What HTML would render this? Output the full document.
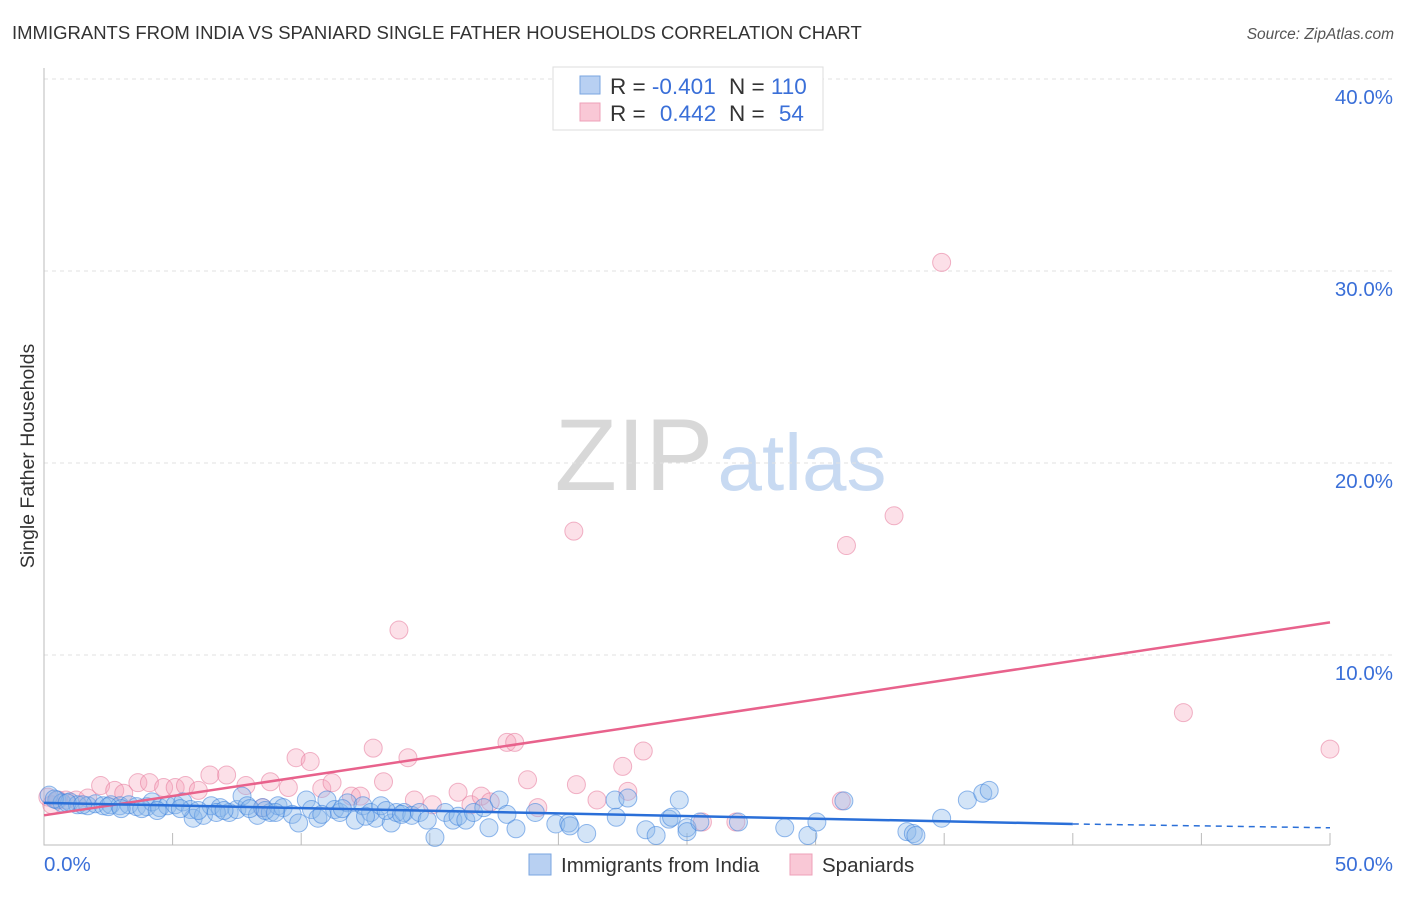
<!DOCTYPE html>
<html><head><meta charset="utf-8"><style>
body{margin:0;background:#fff;font-family:"Liberation Sans",sans-serif;}
svg text{font-family:"Liberation Sans",sans-serif;}
</style></head><body>
<svg id="chart" width="1406" height="892" xmlns="http://www.w3.org/2000/svg">
<text x="12" y="39" font-size="18.5" fill="#333">IMMIGRANTS FROM INDIA VS SPANIARD SINGLE FATHER HOUSEHOLDS CORRELATION CHART</text>
<text x="1394" y="39" font-size="15.5" fill="#555" font-style="italic" text-anchor="end">Source: ZipAtlas.com</text>
<text transform="translate(34,456) rotate(-90)" font-size="19.5" fill="#333" text-anchor="middle">Single Father Households</text>
<g>
<text x="634" y="490" font-size="102" fill="#d8d8d8" font-family="Liberation Serif,serif" text-anchor="middle">ZIP</text>
<text x="802" y="490" font-size="80" fill="#c8daf2" text-anchor="middle">atlas</text>
</g>
<g id="grid"></g>
<g id="axes"></g>
<g id="pts"></g>
<g id="lines"></g>
<g>
<rect x="553" y="67" width="270" height="63" fill="#fff" stroke="#ddd"/>
<rect x="580" y="76" width="20" height="18" fill="#b8d0f2" stroke="#7aa6e0"/>
<rect x="580" y="103" width="20" height="18" fill="#f9c8d6" stroke="#eea0b8"/>
<text x="610" y="94" font-size="22.5" fill="#333">R = <tspan fill="#3a6fd8">-0.401</tspan></text>
<text x="729" y="94" font-size="22.5" fill="#333">N = <tspan fill="#3a6fd8">110</tspan></text>
<text x="610" y="121" font-size="22.5" fill="#333">R = <tspan fill="#3a6fd8" dx="8">0.442</tspan></text>
<text x="729" y="121" font-size="22.5" fill="#333">N = <tspan fill="#3a6fd8" dx="8">54</tspan></text>
</g>
<g>
<rect x="529" y="854" width="22" height="21" fill="#b8d0f2" stroke="#7aa6e0"/>
<text x="561" y="872" font-size="20.5" fill="#333">Immigrants from India</text>
<rect x="790" y="854" width="22" height="21" fill="#f9c8d6" stroke="#eea0b8"/>
<text x="822" y="872" font-size="20.5" fill="#333">Spaniards</text>
</g>
</svg>
<script>
const yTicks=[10,20,30,40];
const yTickLabels=["10.0%","20.0%","30.0%","40.0%"];
const xTickLabels=["0.0%","50.0%"];
const indiaX=[0.2,0.5,0.7,1.0,1.3,1.7,2.0,2.3,2.6,2.95,3.3,3.6,4.0,4.2,4.5,4.8,5.1,5.4,5.7,5.8,6.2,6.5,6.85,7.2,7.5,7.7,7.9,8.3,8.5,8.8,9.1,9.3,9.65,9.9,10.2,10.4,10.65,11.0,11.3,11.5,11.8,12.1,12.4,12.7,12.9,13.1,13.5,13.7,14.0,14.3,14.6,14.9,15.2,15.6,15.9,16.1,16.4,16.7,17.1,17.3,17.7,18.0,18.35,19.1,19.9,20.4,20.45,21.1,22.2,22.25,22.7,23.4,23.8,24.3,24.4,24.7,25.0,25.0,25.5,27.0,28.8,29.7,30.05,31.1,33.55,33.8,33.9,34.9,35.9,36.5,36.75,0.4,0.9,1.5,2.5,3.0,3.8,4.4,5.3,6.0,6.7,7.0,8.0,8.6,9.0,10.8,11.6,12.5,13.3,13.9];
const indiaY=[2.7,2.45,2.3,2.35,2.2,2.15,2.25,2.15,2.2,2.15,2.2,2.1,2.1,2.35,2.05,2.15,2.2,2.35,1.95,1.5,1.65,2.15,2.05,1.8,1.95,2.65,2.15,1.65,2.05,1.8,2.15,2.05,1.7,1.25,2.45,1.95,1.5,2.45,1.95,1.8,2.3,1.4,2.15,1.8,1.5,2.15,1.25,1.8,1.8,1.65,1.8,1.4,0.5,1.8,1.4,1.6,1.4,1.8,2.05,1.0,2.45,1.7,0.95,1.8,1.2,1.25,1.1,0.7,2.45,1.55,2.55,0.9,0.6,1.45,1.55,2.45,1.0,0.8,1.3,1.3,1.0,0.6,1.3,2.4,0.8,0.7,0.6,1.5,2.45,2.8,2.95,2.5,2.3,2.2,2.1,2.0,2.0,1.9,2.0,1.9,1.8,1.9,2.0,1.9,1.8,1.7,2.0,1.6,1.9,1.7];
const spainX=[0.15,0.3,0.55,0.85,1.25,1.7,2.2,2.75,3.1,3.65,4.1,4.65,5.1,5.5,6.0,6.45,7.1,7.85,8.5,8.8,9.5,9.8,10.35,10.8,11.2,11.95,12.3,12.8,13.2,13.8,14.15,14.4,15.1,16.1,16.6,17.0,17.35,18.0,18.3,18.8,19.2,20.6,20.7,21.5,22.5,22.7,23.3,25.6,26.9,31.0,31.2,33.05,34.9,44.3,50.0];
const spainY=[2.6,2.2,2.45,2.45,2.45,2.55,3.2,2.95,2.8,3.35,3.35,3.1,3.1,3.2,2.95,3.75,3.75,3.2,2.05,3.4,3.1,4.65,4.45,3.05,3.35,2.65,2.65,5.15,3.4,11.3,4.65,2.45,2.2,2.85,2.2,2.65,2.35,5.45,5.45,3.5,2.05,16.45,3.25,2.45,4.2,2.9,5.0,1.3,1.3,2.4,15.7,17.25,30.45,7.0,5.1];
const indiaTrend=[2.3,1.2,1.0]; // at x=0, 40, 50
const spainTrend=[1.65,11.7]; // at x=0, 50
const X0=44,X1=1330,Y0=847,PX=(X1-X0)/50,PY=19.2;
const sx=v=>X0+v*PX, sy=v=>Y0-v*PY;
const NS="http://www.w3.org/2000/svg";
function mk(tag,parent,attrs){const e=document.createElementNS(NS,tag);for(const k in attrs)e.setAttribute(k,attrs[k]);document.getElementById(parent).appendChild(e);return e;}
yTicks.forEach((t,i)=>{
 const g=mk('line','grid',{x1:X0,x2:1394,y1:sy(t),y2:sy(t),stroke:'#e2e2e2','stroke-dasharray':'4,4'});
 
 
 const l=mk('text','grid',{x:1393,y:sy(t)+25,'font-size':20.5,fill:'#3a6fd8','text-anchor':'end'});
 l.textContent=yTickLabels[i];
 
 
});
const ax=mk('path','axes',{d:`M${X0} 68V845H${X1}`,stroke:'#bbb',fill:'none'});


for(let i=1;i<=10;i++){const t=mk('line','axes',{x1:sx(i*5),x2:sx(i*5),y1:833,y2:845,stroke:'#bbb'});
 
 }
const xl0=mk('text','axes',{x:44,y:871,'font-size':20.5,fill:'#3a6fd8'});xl0.textContent=xTickLabels[0];


const xl1=mk('text','axes',{x:1393,y:871,'font-size':20.5,fill:'#3a6fd8','text-anchor':'end'});xl1.textContent=xTickLabels[1];


spainX.forEach((x,i)=>{const c=mk('circle','pts',{cx:sx(x),cy:sy(spainY[i]),r:9,fill:'rgba(245,160,185,0.33)',stroke:'rgba(230,120,155,0.55)'});
 
 });
indiaX.forEach((x,i)=>{const c=mk('circle','pts',{cx:sx(x),cy:sy(indiaY[i]),r:9,fill:'rgba(140,185,235,0.38)',stroke:'rgba(60,130,220,0.55)'});
 
 });
const l1=mk('line','lines',{x1:sx(0),y1:sy(spainTrend[0]),x2:sx(50),y2:sy(spainTrend[1]),stroke:'#e8628c','stroke-width':2.5});


const l2=mk('line','lines',{x1:sx(0),y1:sy(indiaTrend[0]),x2:sx(40),y2:sy(indiaTrend[1]),stroke:'#2a6fd8','stroke-width':2.5});


const l3=mk('line','lines',{x1:sx(40),y1:sy(indiaTrend[1]),x2:sx(50),y2:sy(indiaTrend[2]),stroke:'#2a6fd8','stroke-width':1.5,'stroke-dasharray':'6,5'});


</script>
</body></html>
